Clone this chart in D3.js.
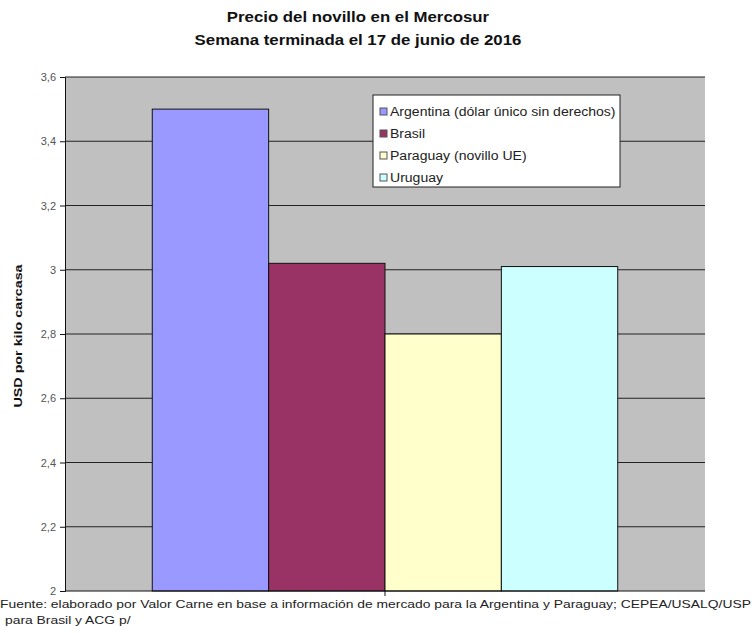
<!DOCTYPE html>
<html>
<head>
<meta charset="utf-8">
<script src="https://cdn.jsdelivr.net/npm/d3@7"></script>
<style>
  body { margin: 0; background: #fff; }
  svg { font-family: "Liberation Sans", Arial, sans-serif; }
</style>
</head>
<body>
<script>
// data
var countries = ["Argentina (dólar único sin derechos)", "Brasil", "Paraguay (novillo UE)", "Uruguay"];
var prices = [3.5, 3.02, 2.8, 3.01];
var colors = ["#9999ff", "#993366", "#ffffcc", "#ccffff"];
var yTicks = [2, 2.2, 2.4, 2.6, 2.8, 3, 3.2, 3.4, 3.6];

var W = 754, H = 633;
var plotL = 65, plotR = 705, plotT = 77, plotB = 591;

var svg = d3.select("body").append("svg")
  .attr("width", W)
  .attr("height", H);

// the original text is wider than Liberation Sans, stretch it a bit
function stretch(sel, k) {
  sel.each(function() {
    var w = this.getComputedTextLength();
    d3.select(this).attr("textLength", w * k).attr("lengthAdjust", "spacingAndGlyphs");
  });
}

// title
svg.append("text").attr("class", "title").attr("x", 358).attr("y", 22)
  .attr("text-anchor", "middle").attr("font-weight", "bold").attr("font-size", 14)
  .attr("fill", "#111").text("Precio del novillo en el Mercosur");
svg.append("text").attr("class", "title").attr("x", 358).attr("y", 45)
  .attr("text-anchor", "middle").attr("font-weight", "bold").attr("font-size", 14)
  .attr("fill", "#111").text("Semana terminada el 17 de junio de 2016");
stretch(svg.selectAll(".title"), 1.2);

var y = d3.scaleLinear().domain([2, 3.6]).range([plotB, plotT]);
// one category, 4 series, gap width 150%
var x = d3.scaleBand().domain(d3.range(countries.length))
  .range([plotL, plotR]).paddingInner(0).paddingOuter(0.75);

// plot background
svg.append("rect")
  .attr("x", plotL).attr("y", plotT)
  .attr("width", plotR - plotL).attr("height", plotB - plotT)
  .attr("fill", "#c0c0c0");

// gridlines
svg.append("g").selectAll("line")
  .data(yTicks.slice(1))
  .enter().append("line")
  .attr("x1", plotL).attr("x2", plotR)
  .attr("y1", function(d) { return y(d); })
  .attr("y2", function(d) { return y(d); })
  .attr("stroke", "#222").attr("stroke-width", 1);

// bars
svg.append("g").selectAll("rect")
  .data(prices)
  .enter().append("rect")
  .attr("x", function(d, i) { return x(i); })
  .attr("y", function(d) { return y(d); })
  .attr("width", x.bandwidth())
  .attr("height", function(d) { return y(2) - y(d); })
  .attr("fill", function(d, i) { return colors[i]; })
  .attr("stroke", "#111").attr("stroke-width", 1);

// y axis
var fmt = function(d) { return d3.format("~g")(d).replace(".", ","); };
var yAxis = svg.append("g")
  .attr("transform", "translate(" + plotL + ",0)")
  .call(d3.axisLeft(y).tickValues(yTicks).tickFormat(fmt).tickSize(5).tickPadding(4));
yAxis.select(".domain").attr("stroke", "#111");
yAxis.selectAll(".tick line").attr("stroke", "#111");
yAxis.selectAll("text").attr("font-size", 11).attr("fill", "#555")
  .attr("font-family", "'Liberation Sans', Arial, sans-serif");

// x axis (single category)
var xAxis = svg.append("g")
  .attr("transform", "translate(0," + plotB + ")");
xAxis.append("line").attr("x1", plotL).attr("x2", plotR)
  .attr("stroke", "#111");
xAxis.append("line").attr("x1", (plotL + plotR) / 2).attr("x2", (plotL + plotR) / 2)
  .attr("y1", 0).attr("y2", 5).attr("stroke", "#111");

// y label
var ylab = svg.append("text")
  .attr("transform", "translate(22," + ((plotT + plotB) / 2 + 2) + ") rotate(-90)")
  .attr("text-anchor", "middle").attr("font-weight", "bold").attr("font-size", 11)
  .attr("fill", "#111").text("USD por kilo carcasa");
stretch(ylab, 1.3);

// legend
var lg = svg.append("g").attr("transform", "translate(373,95)");
lg.append("rect").attr("width", 247).attr("height", 92)
  .attr("fill", "#fff").attr("stroke", "#222");
var items = lg.selectAll("g.item")
  .data(countries)
  .enter().append("g")
  .attr("transform", function(d, i) { return "translate(7," + (21 + i * 22) + ")"; });
items.append("rect")
  .attr("x", 0).attr("y", -8).attr("width", 7).attr("height", 7)
  .attr("fill", function(d, i) { return colors[i]; })
  .attr("stroke", "#555");
var ltext = items.append("text")
  .attr("x", 10).attr("y", 0)
  .attr("font-size", 12).attr("fill", "#222")
  .text(function(d) { return d; });
stretch(ltext, 1.17);

// source
var src = svg.append("text").attr("x", 0).attr("y", 608)
  .attr("font-size", 11).attr("fill", "#222")
  .text("Fuente: elaborado por Valor Carne en base a información de mercado para la Argentina y Paraguay; CEPEA/USALQ/USP");
stretch(src, 1.26);
var src2 = svg.append("text").attr("x", 5).attr("y", 624)
  .attr("font-size", 11).attr("fill", "#222")
  .text("para Brasil y ACG p/");
stretch(src2, 1.26);
</script>
</body>
</html>
